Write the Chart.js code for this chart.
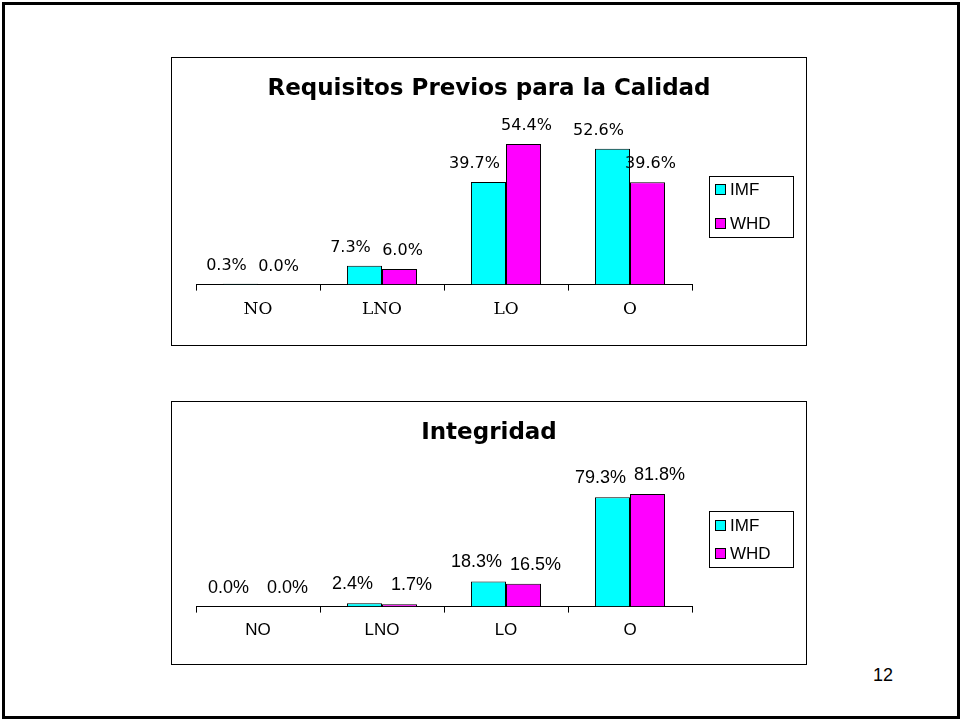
<!doctype html>
<html lang="es">
<head>
<meta charset="utf-8">
<script src="https://cdn.jsdelivr.net/npm/chart.js/dist/chart.umd.min.js"></script>
<title>Requisitos Previos para la Calidad / Integridad</title>
<style>
  * { margin: 0; padding: 0; }
  body { width: 961px; height: 721px; background: #fff; position: relative; overflow: hidden; }
  .slide { position: absolute; left: 2px; top: 2px; width: 952px; height: 711px; border: 3px solid #000; }
  .box { position: absolute; left: 171px; width: 634px; border: 1px solid #000; background: #fff; }
  #box1 { top: 57px; height: 287px; }
  #box2 { top: 401px; height: 262px; }
  .box canvas { display: block; }
  .pagenum { position: absolute; left: 873px; top: 665px; font: 18px "Liberation Sans", Arial, sans-serif; color: #000; }
</style>
</head>
<body>
<div class="slide"></div>
<div class="box" id="box1"><canvas id="calidad" width="634" height="287"></canvas></div>
<div class="box" id="box2"><canvas id="integridad" width="634" height="262"></canvas></div>
<div class="pagenum">12</div>

<script>
// datos (porcentajes)
const categories = ['NO', 'LNO', 'LO', 'O'];
const seriesNames = ['IMF', 'WHD'];
const seriesColors = ['#00ffff', '#ff00ff'];

const calidadIMF = [0.3, 7.3, 39.7, 52.6];
const calidadWHD = [0.0, 6.0, 54.4, 39.6];

const integridadIMF = [0.0, 2.4, 18.3, 79.3];
const integridadWHD = [0.0, 1.7, 16.5, 81.8];

// cajas vacias a izquierda/derecha: dejan sitio a la leyenda sin descentrar el titulo
function spacer(position, size) {
    return {
        position: position, weight: 0, fullSize: false, options: {},
        left: 0, top: 0, right: 0, bottom: 0, width: 0, height: 0,
        isHorizontal() { return false; },
        getPadding() { return { top: 0, left: 0, bottom: 0, right: 0 }; },
        update(maxWidth, maxHeight) { this.width = size; this.height = maxHeight; },
        draw() {}
    };
}

const sideSpace = {
    id: 'sideSpace',
    start(chart, args, opts) {
        Chart.layouts.addBox(chart, spacer('left', opts.left));
        Chart.layouts.addBox(chart, spacer('right', opts.right));
    }
};

// etiquetas de valor encima de cada barra
const valueLabels = {
    id: 'valueLabels',
    afterDatasetsDraw(chart, args, opts) {
        const ctx = chart.ctx;
        ctx.save();
        ctx.font = opts.font;
        ctx.fillStyle = '#000';
        ctx.textAlign = 'center';
        ctx.textBaseline = 'alphabetic';
        chart.data.datasets.forEach((ds, i) => {
            const meta = chart.getDatasetMeta(i);
            meta.data.forEach((bar, j) => {
                const txt = ds.data[j].toFixed(1) + '%';
                ctx.fillText(txt, bar.x + opts.dx[i], bar.y - opts.gap);
            });
        });
        ctx.restore();
    }
};

// leyenda con marco, a la derecha del area del grafico
const boxLegend = {
    id: 'boxLegend',
    afterDraw(chart, args, opts) {
        const ctx = chart.ctx;
        const area = chart.chartArea;
        const x = Math.round(area.right + opts.gapLeft);
        const cy = (area.top + area.bottom) / 2 + opts.shift;
        const y = Math.round(cy - opts.height / 2);
        ctx.save();
        ctx.strokeStyle = '#000';
        ctx.lineWidth = 1;
        ctx.strokeRect(x + 0.5, y + 0.5, opts.width, opts.height);
        ctx.font = opts.font;
        ctx.textBaseline = 'middle';
        ctx.textAlign = 'left';
        chart.data.datasets.forEach((ds, i) => {
            const ry = Math.round(cy + (i - 0.5) * opts.rowGap);
            ctx.fillStyle = ds.backgroundColor;
            ctx.fillRect(x + 6, ry - 5, 10, 10);
            ctx.strokeRect(x + 6.5, ry - 4.5, 10, 10);
            ctx.fillStyle = '#000';
            ctx.fillText(ds.label, x + 21, ry + 1);
        });
        ctx.restore();
    }
};

function makeChart(id, title, imf, whd, cfg) {
    return new Chart(document.getElementById(id), {
        type: 'bar',
        data: {
            labels: categories,
            datasets: [
                { label: seriesNames[0], data: imf, backgroundColor: seriesColors[0] },
                { label: seriesNames[1], data: whd, backgroundColor: seriesColors[1] }
            ]
        },
        options: {
            responsive: false,
            animation: false,
            layout: { padding: { left: 0, right: 0, top: 0, bottom: cfg.padBottom } },
            datasets: {
                bar: {
                    borderColor: '#000',
                    borderWidth: 1,
                    borderSkipped: 'bottom',
                    categoryPercentage: 0.565,
                    barPercentage: 1.0
                }
            },
            scales: {
                x: {
                    grid: {
                        drawOnChartArea: false,
                        drawTicks: true,
                        tickLength: 6,
                        color: '#000',
                        lineWidth: 1
                    },
                    border: { display: true, color: '#000', width: 1 },
                    ticks: {
                        color: '#000',
                        padding: cfg.tickPad,
                        font: cfg.tickFont
                    }
                },
                y: { display: false, min: 0, max: cfg.yMax }
            },
            plugins: {
                legend: { display: false },
                tooltip: { enabled: false },
                title: {
                    display: true,
                    text: title,
                    color: '#000',
                    font: { family: 'DejaVu Sans', size: 23, weight: 'bold' },
                    padding: { top: 17, bottom: cfg.titlePadBottom }
                },
                sideSpace: { left: 24, right: 114 },
                valueLabels: { font: cfg.labelFont, dx: cfg.labelDx, gap: 14 },
                boxLegend: {
                    font: '17px "Liberation Sans", Arial, sans-serif',
                    gapLeft: 17, width: 84, height: cfg.legendH, rowGap: cfg.rowGap, shift: cfg.legendShift
                }
            }
        },
        plugins: [sideSpace, valueLabels, boxLegend]
    });
}

makeChart('calidad', 'Requisitos Previos para la Calidad', calidadIMF, calidadWHD, {
    yMax: 60,
    padBottom: 16,
    tickPad: 9,
    tickFont: { family: 'DejaVu Serif', size: 17 },
    titlePadBottom: 27,
    labelFont: '16px "DejaVu Sans", sans-serif',
    labelDx: [-14, 3],
    legendH: 61, rowGap: 34, legendShift: -1
});

makeChart('integridad', 'Integridad', integridadIMF, integridadWHD, {
    yMax: 90,
    padBottom: 15,
    tickPad: 8,
    tickFont: { family: 'Liberation Sans', size: 17 },
    titlePadBottom: 36,
    labelFont: '18px "Liberation Sans", Arial, sans-serif',
    labelDx: [-12, 12],
    legendH: 56, rowGap: 28, legendShift: -6
});
</script>
</body>
</html>
